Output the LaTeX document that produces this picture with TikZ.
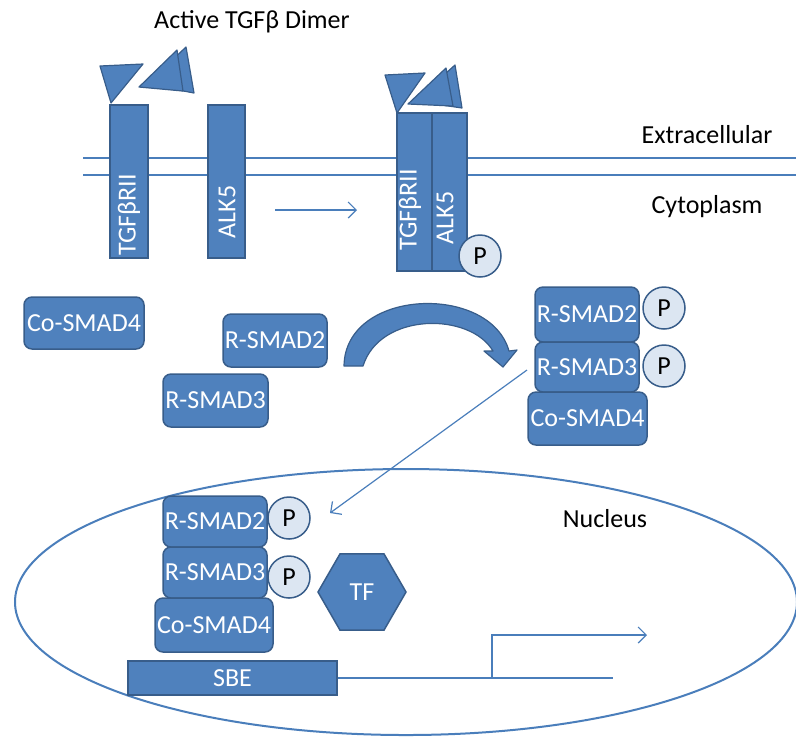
\documentclass[tikz,border=0pt]{standalone}
\usepackage{fontspec}
\setmainfont{Carlito}
\usetikzlibrary{shapes.geometric}
\usetikzlibrary{arrows.meta}

\definecolor{smadfill}{HTML}{4F81BD}
\definecolor{smadline}{HTML}{385D8A}
\definecolor{phosfill}{HTML}{DCE6F2}
\definecolor{wire}{HTML}{4A7EBB}

\tikzset{
  smad/.style={draw=smadline, fill=smadfill, line width=0.75pt,
    rounded corners=4pt, text=white, inner sep=0pt},
  rcpt/.style={draw=smadline, fill=smadfill, line width=0.75pt, inner sep=0pt},
  rcptlbl/.style={rotate=90, text=white, inner sep=0pt},
  phos/.style={circle, draw=smadline, fill=phosfill, line width=0.75pt,
    minimum size=21pt, inner sep=0pt},
  ligand/.style={draw=smadline, fill=smadfill, line width=0.6pt, line join=round},
  wire/.style={draw=wire, line width=0.6pt},
  barb/.style={-{Straight Barb[length=4pt,width=8pt]}}
}

\begin{document}
\begin{tikzpicture}[x=0.5pt, y=-0.5pt, font=\fontsize{13}{15.5}\selectfont]
\useasboundingbox (0,0) rectangle (796,736);

% membrane and compartments
\coordinate (memA1) at (83,158);
\coordinate (memA2) at (796,158);
\coordinate (memB1) at (83,175);
\coordinate (memB2) at (796,175);
\draw[wire] (memA1) -- (memA2);
\draw[wire] (memB1) -- (memB2);
\draw[wire, line width=1pt] (406,602) ellipse [x radius=391, y radius=133];

\node (title) at (252,22) {Active TGFβ Dimer};
\node (extra) at (707,135) {Extracellular};
\node (cyto) at (707,207) {Cytoplasm};
\node (nuc) at (605,519) {Nucleus};

% free receptors
\node[rcpt, minimum width=19pt, minimum height=76.5pt] (rII) at (129,181.5) {};
\node[rcpt, minimum width=18.5pt, minimum height=76.5pt] (alk) at (226.5,181.5) {};
\node[rcptlbl] (rIIlbl) at (129,215) {TGFβRII};
\node[rcptlbl] (alklbl) at (227,212) {ALK5};

% ligand
\filldraw[ligand] (100,66) -- (143,64) -- (111,103) -- cycle;
\filldraw[ligand] (147,84) -- (186,47) -- (194,93) -- cycle;
\filldraw[ligand] (139,87) -- (177,50) -- (183,91) -- cycle;

% activated complex
\node[rcpt, minimum width=17.5pt, minimum height=79pt] (rIIb) at (414.5,192) {};
\node[rcpt, minimum width=17.5pt, minimum height=79pt] (alkb) at (449.5,192) {};
\node[rcptlbl] (rIIblbl) at (410,210) {TGFβRII};
\node[rcptlbl] (alkblbl) at (445,218) {ALK5};
\node[phos] (pAlk) at (480,256) {P};
\filldraw[ligand] (385,75) -- (425,73) -- (397,113) -- cycle;
\filldraw[ligand] (415,101) -- (455,65) -- (462,108) -- cycle;
\filldraw[ligand] (408,104) -- (446,68) -- (453,106) -- cycle;

\coordinate (actL) at (275,210);
\coordinate (actR) at (357,210);
\draw[wire, barb] (actL) -- (actR);

% cytoplasmic SMADs
\node[smad, minimum width=60pt, minimum height=26pt] (co4) at (84,323) {Co-SMAD4};
\node[smad, minimum width=52pt, minimum height=26.5pt] (r2) at (275,340.5) {R-SMAD2};
\node[smad, minimum width=52.5pt, minimum height=26.5pt] (r3) at (215.5,400.5) {R-SMAD3};

% curved arrow
\filldraw[ligand] (344,366) .. controls (345,288) and (490,283) .. (509,351)
  -- (517,350) -- (503,367) -- (484,351) -- (493,351)
  .. controls (470,312) and (380,312) .. (363,366) -- cycle;

% phosphorylated complex
\node[smad, minimum width=52pt, minimum height=27.5pt] (cr2) at (587,314.5) {R-SMAD2};
\node[smad, minimum width=52pt, minimum height=25pt] (cr3) at (587,367) {R-SMAD3};
\node[smad, minimum width=59.5pt, minimum height=26.5pt] (cco4) at (587.5,418.5) {Co-SMAD4};
\node[phos] (pc2) at (664,308) {P};
\node[phos] (pc3) at (664,366) {P};

\coordinate (impS) at (527,370);
\coordinate (impE) at (330,513);
\draw[wire, barb] (impS) -- (impE);

% nuclear complex on the SBE
\node[smad, minimum width=52pt, minimum height=25.5pt] (nr2) at (215,521.5) {R-SMAD2};
\node[smad, minimum width=52pt, minimum height=25.5pt] (nr3) at (215,572.5) {R-SMAD3};
\node[smad, minimum width=59pt, minimum height=27pt] (nco4) at (214,625) {Co-SMAD4};
\node[phos] (pn2) at (289,518) {P};
\node[phos] (pn3) at (289,577) {P};
\node[regular polygon, regular polygon sides=6, draw=smadline, fill=smadfill,
  line width=0.75pt, text=white, minimum size=44pt, inner sep=0pt] (tf) at (362,592) {TF};
\node[rcpt, text=white, minimum width=104.5pt, minimum height=17pt] (sbe) at (232.5,678) {SBE};

\coordinate (dnaEnd) at (613,678);
\coordinate (tss) at (492,678);
\coordinate (txEnd) at (647,635);
\draw[wire] (sbe.east) -- (dnaEnd);
\draw[wire, barb] (tss) |- (txEnd);
\end{tikzpicture}
\end{document}
